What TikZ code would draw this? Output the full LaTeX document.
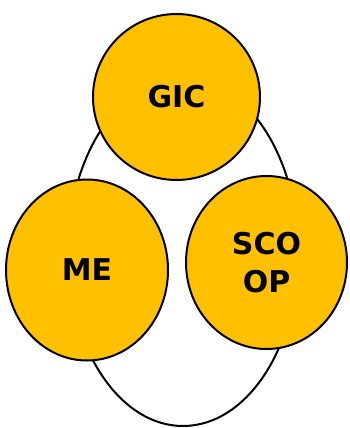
\documentclass[tikz,border=0pt]{standalone}
\usepackage{fontspec}
\setmainfont{DejaVu Sans}
\usetikzlibrary{shapes.geometric,positioning}
\definecolor{gold}{HTML}{FFC000}

\begin{document}
\begin{tikzpicture}[x=1pt,y=-1pt,
  blob/.style={ellipse,draw,line width=2pt,fill=gold,inner sep=0pt,
    align=center,font=\fontsize{30}{38}\selectfont\bfseries},
  ring/.style={ellipse,draw,line width=2pt,inner sep=0pt}]
  \useasboundingbox (0,0) rectangle (350,428);
  \node[ring,minimum width=230pt,minimum height=348pt](loop) at (183,252){};
  \node[blob,minimum width=167pt,minimum height=166pt](gic) at (176.5,97){GIC};
  \node[blob,minimum width=162pt,minimum height=181pt](me) at (87,270){ME};
  \node[blob,minimum width=161pt,minimum height=173pt](scoop) at (266.5,262.5){SCO\\OP};
\end{tikzpicture}
\end{document}
